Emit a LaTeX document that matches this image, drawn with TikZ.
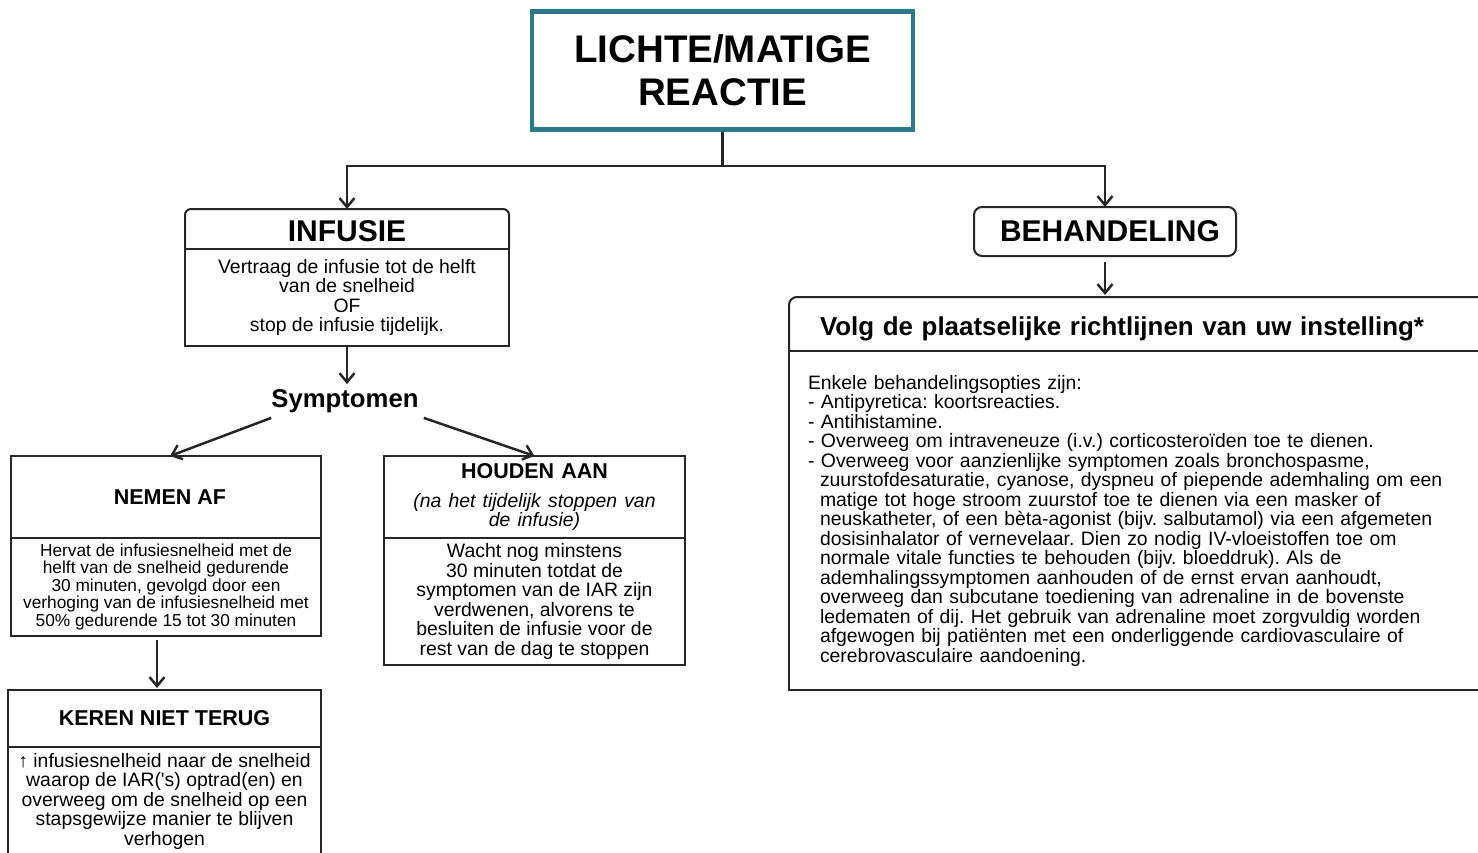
\documentclass[tikz,border=0pt]{standalone}
\usepackage{fontspec}
\setmainfont{Liberation Sans}
\usetikzlibrary{arrows.meta}
\usetikzlibrary{positioning}

\definecolor{tealrand}{RGB}{46,120,140}
\newcommand{\fs}[2]{\fontsize{#1}{#2}\selectfont}
\newcommand{\inspr}{\hspace*{12pt}}
\frenchspacing

\begin{document}
\begin{tikzpicture}[x=1pt,y=1pt,>={Straight Barb[length=9pt,width=15pt]},
		line width=2.5pt,black!85]
		\tikzstyle{kop}=[inner sep=0pt,outer sep=0pt,align=center,text=black,
		font=\fs{21.5}{24}\bfseries]
		\tikzstyle{tekst}=[draw,line width=2pt,inner sep=0pt,outer sep=0pt,
		align=center,text=black,font=\fs{19.4}{19.5}]
		
		\path[use as bounding box,clip] (0,0) rectangle (1478,-852);
		
		\node[draw=tealrand,line width=4.5pt,minimum width=381,minimum height=118,
		align=center,font=\fs{38.5}{43}\bfseries,text=black]
		(Reactie) at (722.5,-70.5) {LICHTE/MATIGE\\REACTIE};
		\coordinate (Split) at (722.5,-166);
		
		% linker tak
		\node[kop,minimum width=324,minimum height=40,font=\fs{30}{32}\bfseries,
		text height=24pt,text depth=0pt]
		(Infusie) at (347,-229) {INFUSIE};
		\node[tekst,minimum width=324,minimum height=97] (InfusieTekst)
		[below=0pt of Infusie] {Vertraag de infusie tot de helft\\van de snelheid\\OF\\stop de infusie tijdelijk.};
		\draw[line width=2pt,rounded corners=6pt] (Infusie.south west) -- (Infusie.north west)
		-- (Infusie.north east) -- (Infusie.south east);
		
		\node[inner sep=4pt,text=black,font=\fs{25.7}{28}\bfseries]
		(Symptomen) at (345,-401) {Symptomen};
		
		\node[kop,draw,line width=2pt,minimum width=310,minimum height=82]
		(NemenAf) at (166,-497) {\hspace*{8pt}NEMEN AF};
		\node[tekst,minimum width=310,minimum height=98,font=\fs{17.3}{17.5}]
		(NemenAfTekst) [below=0pt of NemenAf]
		{Hervat de infusiesnelheid met de\\helft van de snelheid gedurende\\30 minuten, gevolgd door een\\verhoging van de infusiesnelheid met\\50\% gedurende 15 tot 30 minuten};
		
		\node[kop,draw,line width=2pt,text width=301,minimum height=82]
		(HoudenAan) at (534.5,-497)
		{HOUDEN AAN\par\vspace{9pt}
			\fs{19.4}{19.5}\mdseries\itshape (na het tijdelijk stoppen van\\de infusie)\par};
		\node[tekst,minimum width=301,minimum height=127] (HoudenAanTekst)
		[below=0pt of HoudenAan]
		{Wacht nog minstens\\30 minuten totdat de\\symptomen van de IAR zijn\\verdwenen, alvorens te\\besluiten de infusie voor de\\rest van de dag te stoppen};
		
		\node[kop,draw,line width=2pt,minimum width=313,minimum height=57]
		(KerenNiet) at (164.5,-718.5) {KEREN NIET TERUG};
		\node[tekst,minimum width=313,minimum height=108] (KerenNietTekst)
		[below=0pt of KerenNiet]
		{↑ infusiesnelheid naar de snelheid\\waarop de IAR(\textquotesingle s) optrad(en) en\\overweeg om de snelheid op een\\stapsgewijze manier te blijven\\verhogen};
		
		% rechter tak
		\node[kop,draw,line width=2pt,rounded corners=8pt,minimum width=262,
		minimum height=49,font=\fs{30}{32}\bfseries]
		(Behandeling) at (1105,-231.5) {\hspace*{10pt}BEHANDELING};
		
		\node[kop,minimum height=54,text width=634,inner xsep=31pt,align=left,
		font=\fs{25.9}{28}\bfseries,text height=23.5pt,text depth=0pt] (Richtlijn) at (1137,-324)
		{Volg de plaatselijke richtlijnen van uw instelling*};
		\draw[line width=2pt,rounded corners=8pt] (Richtlijn.south west) -- (Richtlijn.north west)
		-- (Richtlijn.north east) -- (Richtlijn.south east);
		\node[tekst,minimum height=339,text width=658,inner xsep=19pt,align=left]
		(RichtlijnTekst) [below=0pt of Richtlijn]
		{Enkele behandelingsopties zijn:\\
			- Antipyretica: koortsreacties.\\
			- Antihistamine.\\
			- Overweeg om intraveneuze (i.v.) corticosteroïden toe te dienen.\\
			- Overweeg voor aanzienlijke symptomen zoals bronchospasme,\\
			\inspr zuurstofdesaturatie, cyanose, dyspneu of piepende ademhaling om een\\
			\inspr matige tot hoge stroom zuurstof toe te dienen via een masker of\\
			\inspr neuskatheter, of een bèta-agonist (bijv. salbutamol) via een afgemeten\\
			\inspr dosisinhalator of vernevelaar. Dien zo nodig IV-vloeistoffen toe om\\
			\inspr normale vitale functies te behouden (bijv. bloeddruk). Als de\\
			\inspr ademhalingssymptomen aanhouden of de ernst ervan aanhoudt,\\
			\inspr overweeg dan subcutane toediening van adrenaline in de bovenste\\
			\inspr ledematen of dij. Het gebruik van adrenaline moet zorgvuldig worden\\
			\inspr afgewogen bij patiënten met een onderliggende cardiovasculaire of\\
			\inspr cerebrovasculaire aandoening.};
		
		% verbindingen
		\draw (Reactie.south) -- (Split);
		\draw[->] (Split) -| (Infusie.north);
		\draw[->] (Split) -| (Behandeling.north);
		\draw[->] (InfusieTekst.south) -- (InfusieTekst.south |- Symptomen.north);
		\draw[->] ([xshift=5pt]Symptomen.south west) -- ([xshift=4pt]NemenAf.north);
		\draw[->] (Symptomen.south east) -- (HoudenAan.north);
		\draw[->,shorten <=4pt,shorten >=2pt] ([xshift=-9pt]NemenAfTekst.south)
		-- ([xshift=-7.5pt]KerenNiet.north);
		\draw[->,shorten <=6pt,shorten >=2pt] (Behandeling.south)
		-- (Behandeling.south |- Richtlijn.north);
\end{tikzpicture}
\end{document}
